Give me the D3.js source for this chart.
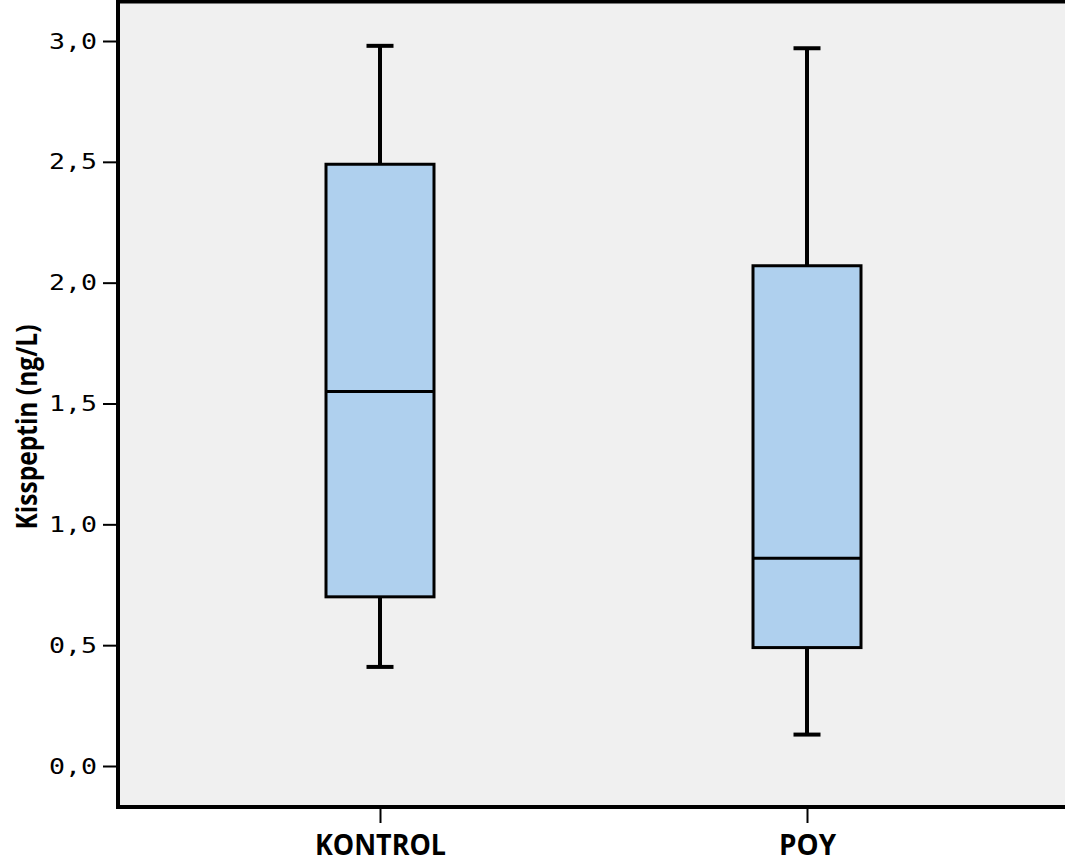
<!DOCTYPE html>
<html>
<head>
<meta charset="utf-8">
<script src="https://cdn.jsdelivr.net/npm/d3@7"></script>
<style>
  body { margin: 0; background: #fff; }
  svg { display: block; }
</style>
</head>
<body>
<svg id="chart" width="1065" height="867"></svg>
<script>
"use strict";

// ==========  Data  ==========
var categories  = ["KONTROL", "POY"]
var whiskerLow  = [0.41, 0.13]
var q1          = [0.70, 0.49]
var median      = [1.55, 0.86]
var q3          = [2.49, 2.07]
var whiskerHigh = [2.98, 2.97]
var yTicks      = [0, 0.5, 1, 1.5, 2, 2.5, 3]
var yLabel      = "Kisspeptin (ng/L)"

// ==========  Layout  ==========
var plotLeft   = 118
var plotTop    = 1.5
var plotBottom = 807
var boxWidth   = 108
var capWidth   = 27

var svg = d3.select('#chart')

var x = d3.scalePoint().domain(categories).range([380, 807])
var y = d3.scaleLinear().domain([0, 3]).range([766, 41])

// plot frame
svg.append('rect')
   .attr('x', plotLeft).attr('y', plotTop)
   .attr('width', 1000).attr('height', plotBottom - plotTop)
   .attr('fill', '#f0f0f0')
   .attr('stroke', '#000')
   .attr('stroke-width', 4)

// y axis
var yAxis = svg.append('g')
   .attr('transform', 'translate(116,0)')
   .call(d3.axisLeft(y).tickValues(yTicks).tickSize(13).tickPadding(6)
           .tickFormat(function(d) { return d.toFixed(1).replace('.', ',') }))
yAxis.select('.domain').remove()
yAxis.selectAll('line').attr('stroke', '#000').attr('stroke-width', 2)
yAxis.selectAll('text')
     .attr('font-family', '"DejaVu Sans Mono", monospace')
     .attr('font-size', 22)
     .attr('textLength', 48)
     .attr('lengthAdjust', 'spacingAndGlyphs')
     .attr('fill', '#000')

// x axis
var xAxis = svg.append('g')
   .attr('transform', 'translate(0,809)')
   .call(d3.axisBottom(x).tickSize(14).tickPadding(12))
xAxis.select('.domain').remove()
xAxis.selectAll('line').attr('stroke', '#000').attr('stroke-width', 2)
xAxis.selectAll('text')
     .attr('font-family', '"Open Sans", sans-serif')
     .attr('font-weight', 'bold')
     .attr('font-size', 28)
     .attr('fill', '#000')
     .attr('textLength', 131)
     .attr('lengthAdjust', 'spacingAndGlyphs')
xAxis.selectAll('text').filter(function(d) { return d == 'POY' })
     .attr('textLength', 57)

// y label
svg.append('text')
   .attr('transform', 'translate(37,427) rotate(-90)')
   .attr('text-anchor', 'middle')
   .attr('font-family', '"Open Sans", sans-serif')
   .attr('font-weight', 'bold')
   .attr('font-size', 29)
   .attr('textLength', 205)
   .attr('lengthAdjust', 'spacingAndGlyphs')
   .text(yLabel)

// ==========  Boxes  ==========
var groups = svg.selectAll('g.box')
   .data(categories)
   .enter().append('g').classed('box', true)

groups.each(function(c, i) {
  var g  = d3.select(this)
  var cx = x(c)
  // whiskers
  g.append('line')
   .attr('x1', cx).attr('x2', cx)
   .attr('y1', y(whiskerHigh[i])).attr('y2', y(q3[i]))
   .attr('stroke', '#000').attr('stroke-width', 4)
  g.append('line')
   .attr('x1', cx).attr('x2', cx)
   .attr('y1', y(q1[i])).attr('y2', y(whiskerLow[i]))
   .attr('stroke', '#000').attr('stroke-width', 4)
  // caps
  ;[whiskerHigh[i], whiskerLow[i]].forEach(function(v) {
    g.append('line')
     .attr('x1', cx - capWidth / 2).attr('x2', cx + capWidth / 2)
     .attr('y1', y(v)).attr('y2', y(v))
     .attr('stroke', '#000').attr('stroke-width', 4)
  })
  // box
  g.append('rect')
   .attr('x', cx - boxWidth / 2)
   .attr('y', y(q3[i]))
   .attr('width', boxWidth)
   .attr('height', y(q1[i]) - y(q3[i]))
   .attr('fill', '#afd0ee')
   .attr('stroke', '#000').attr('stroke-width', 3)
  // median
  g.append('line')
   .attr('x1', cx - boxWidth / 2).attr('x2', cx + boxWidth / 2)
   .attr('y1', y(median[i])).attr('y2', y(median[i]))
   .attr('stroke', '#000').attr('stroke-width', 3)
})
</script>
</body>
</html>
